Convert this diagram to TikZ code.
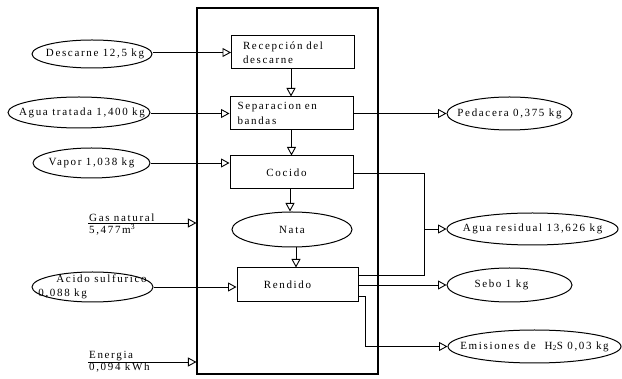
\documentclass[tikz,border=0pt]{standalone}
\usepackage{fontspec}
\setmainfont{Liberation Serif}[LetterSpace=15]
\usetikzlibrary{arrows.meta,shapes.geometric}
\newcommand\zw[1]{\makebox[0pt]{#1}}
\begin{document}
\begin{tikzpicture}[x=1pt,y=-1pt,
  every node/.style={font=\fontsize{11}{14.5}\selectfont},
  proc/.style={draw, line width=1pt, minimum width=123pt, minimum height=33pt, inner sep=0pt},
  flow/.style={draw, ellipse, line width=1pt, inner sep=0pt},
  arr/.style={line width=0.9pt, -{Triangle[open,length=8.5pt,width=9pt]}},
  ln/.style={line width=0.9pt},
  lbl/.style={inner sep=1pt}]
\useasboundingbox (0,0) rectangle (622,379);
\node[draw, line width=1.1pt, minimum width=181pt, minimum height=366pt, inner sep=0pt] (big) at (287.5,191) {};
% process boxes
\node[proc, text width=100pt, align=left] (rec) at (293,52.5) {Recepción del\\descarne};
\node[proc, text width=108pt, align=left] (sep) at (291.5,113.5) {Separacion en\\bandas};
\node[proc] (coc) at (291.5,172.5) {\hspace*{-10pt}Cocido};
\node[flow, minimum width=120pt, minimum height=35pt] (nata) at (292,229.5) {Nata};
\node[proc, minimum width=121pt, minimum height=34pt] (ren) at (297.5,285) {\hspace*{-20pt}Rendido};
% inputs
\node[flow, minimum width=120pt, minimum height=28pt] (desc) at (92,54) {\zw{\hspace*{6pt}Descarne 12,5 kg}};
\node[flow, minimum width=142pt, minimum height=31pt] (agua) at (79,112.5) {\zw{\hspace*{6pt}Agua tratada 1,400 kg}};
\node[flow, minimum width=117pt, minimum height=30pt] (vap) at (91.5,163) {\zw{Vapor 1,038 kg}};
\node[flow, minimum width=121pt, minimum height=30pt, text height=5pt, text depth=0pt] (acid) at (92.5,287)
  {\zw{\begin{tabular}{@{}l@{}}\hspace*{18pt}Acido sulfurico\\0,088 kg\end{tabular}}};
\coordinate (gas) at (88,223);
\coordinate (ene) at (88,362);
\node[lbl, anchor=south west] (gast) at (gas) {Gas natural};
\node[lbl, anchor=north west] (gasv) at (gas) {5,477m\textsuperscript{3}};
\node[lbl, anchor=south west] (enet) at (ene) {Energia};
\node[lbl, anchor=north west] (enev) at (ene) {0,094 kWh};
% outputs
\node[flow, minimum width=125pt, minimum height=33pt] (ped) at (509.5,113.5) {\zw{Pedacera 0,375 kg}};
\node[flow, minimum width=171pt, minimum height=32pt] (ares) at (532.5,229) {\zw{Agua residual 13,626 kg}};
\node[flow, minimum width=125pt, minimum height=34pt] (sebo) at (509.5,285) {\zw{\hspace*{-16pt}Sebo 1 kg}};
\node[flow, minimum width=173pt, minimum height=33pt] (emi) at (534.5,346.5) {\zw{Emisiones de\ \ H\textsubscript{2}S 0,03 kg}};
% internal flow
\draw[arr] (rec.south -| 291,0) -- (sep.north -| 291,0);
\draw[arr] (sep.south -| coc.north) -- (coc.north);
\draw[arr] (coc.south -| 290,0) -- (nata.north -| 290,0);
\draw[arr] (nata.south -| 296,0) -- (ren.north -| 296,0);
% inputs arrows
\draw[arr] (desc.east |- rec.west) -- (rec.west);
\draw[arr] (agua.east |- sep.west) -- (sep.west);
\draw[arr] (vap.east) -- (vap -| coc.west);
\draw[arr] (acid.east) -- (acid -| ren.west);
\draw[arr] (gas) -- (gas -| big.west);
\draw[arr] (ene) -- (ene -| big.west);
% outputs arrows
\draw[arr] (sep.east) -- (ped.west);
\coordinate (j1) at (424,173);
\coordinate (j2) at (424,275);
\coordinate (jn) at (424,229);
\draw[ln] (coc.east |- j1) -- (j1) -- (j2) -- (j2 -| ren.east);
\draw[arr] (jn) -- (ares.west);
\draw[arr] (ren.east |- sebo.west) -- (sebo.west);
\coordinate (e1) at (365,296);
\draw[arr] (ren.east |- e1) -- (e1) |- (emi.west);
\end{tikzpicture}
\end{document}
